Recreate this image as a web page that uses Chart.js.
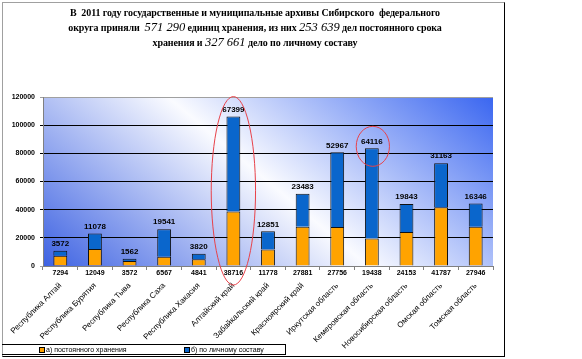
<!DOCTYPE html>
<html><head><meta charset="utf-8">
<script src="https://cdn.jsdelivr.net/npm/chart.js@4/dist/chart.umd.min.js"></script>
<style>
html,body{margin:0;padding:0;background:#fff;width:582px;height:359px;overflow:hidden;}
body{position:relative;}
#c{position:absolute;left:0;top:0;}
#frame{position:absolute;left:2px;top:2px;width:501px;height:353px;border-left:1px solid #a0a0a0;border-top:1px solid #a0a0a0;border-right:1px solid #000;border-bottom:1px solid #000;pointer-events:none;}
#title{position:absolute;left:2px;top:6px;width:506px;text-align:center;font:bold 10px "Liberation Serif",serif;line-height:14px;color:#000;letter-spacing:-0.1px;}
#title i{font-weight:normal;font-size:12.5px;letter-spacing:0;}
#legend{position:absolute;left:2px;top:344px;width:283px;height:9px;border-top:1px solid #000;border-right:1px solid #000;border-bottom:1px solid #000;font:7px "Liberation Sans",Arial,sans-serif;color:#000;}
#legend span{position:absolute;top:1px;line-height:8px;white-space:nowrap;}
#legend b{display:inline-block;width:4px;height:4px;border:1px solid #000;margin-right:1px;vertical-align:-1px;}
</style></head>
<body>
<canvas id="c" width="582" height="359"></canvas>
<div id="frame"></div>
<div id="title">В&nbsp; 2011 году государственные и муниципальные архивы Сибирского&nbsp; федерального<br>округа приняли&nbsp; <i>571 290</i> единиц хранения, из них <i>253 639</i> дел постоянного срока<br>хранения и <i>327 661</i> дело по личному составу</div>
<div id="legend"></div>
<script>
const categories=['Республика Алтай','Республика Бурятия','Республика Тыва','Республика Саха','Республика Хакасия','Алтайский край','Забайкальский край','Красноярский край','Иркутская область','Кемеровская область','Новосибирская область','Омская область','Томская область'];
const permanentStorage=[7294,12049,3572,6567,4841,38716,11778,27881,27756,19438,24153,41787,27946];
const personnelRecords=[3572,11078,1562,19541,3820,67399,12851,23483,52967,64116,19843,31163,16346];
const seriesNames=['а) постоянного хранения','б) по личному составу'];
const seriesColors=['#FFA300','#0A66CC'];
const yMin=0, yMax=120000, yStep=20000;
const circledCategories=[5,9];

// legend
const lg=document.getElementById('legend');
[[37,0],[182,1]].forEach(([x,i])=>{
  const s=document.createElement('span');
  s.style.left=x+'px';
  s.innerHTML='<b style="background:'+seriesColors[i]+'"></b>'+seriesNames[i];
  lg.appendChild(s);
});

const bgPlugin={id:'bg',beforeDraw(chart){
  const {ctx,chartArea:a}=chart;
  const cx=(a.left+a.right)/2, cy=(a.top+a.bottom)/2;
  const dx=0.645, dy=-0.764;
  const L=Math.abs((a.left-cx)*dx+(a.bottom-cy)*dy);
  const g=ctx.createLinearGradient(cx-L*dx,cy-L*dy,cx+L*dx,cy+L*dy);
  g.addColorStop(0,'#3d62e2');
  g.addColorStop(0.5,'#fafbff');
  g.addColorStop(1,'#3a66f0');
  ctx.save();ctx.fillStyle=g;ctx.fillRect(a.left,a.top,a.right-a.left,a.bottom-a.top);ctx.restore();
}};

const labelPlugin={id:'vals',afterDatasetsDraw(chart){
  const {ctx,scales:{x,y}}=chart;
  ctx.save();
  ctx.fillStyle='#000';ctx.textAlign='center';ctx.textBaseline='middle';
  categories.forEach((c,i)=>{
    const px=x.getPixelForValue(i);
    ctx.font='bold 8px "Liberation Sans",Arial,sans-serif';
    ctx.fillText(String(personnelRecords[i]),px,y.getPixelForValue(permanentStorage[i]+personnelRecords[i])-7);
    ctx.font='bold 7px "Liberation Sans",Arial,sans-serif';
    ctx.fillText(String(permanentStorage[i]),px,y.bottom+7);
  });
  // red ellipses
  ctx.strokeStyle='#e8424a';ctx.lineWidth=1;
  const bw=x.getPixelForValue(1)-x.getPixelForValue(0);
  {
    const i=circledCategories[0];
    const px=x.getPixelForValue(i);
    const top=y.getPixelForValue(permanentStorage[i]+personnelRecords[i])-20;
    const bot=y.bottom+19;
    ctx.beginPath();ctx.ellipse(px,(top+bot)/2,bw*0.64,(bot-top)/2,0,0,Math.PI*2);ctx.stroke();
  }
  {
    const i=circledCategories[1];
    const px=x.getPixelForValue(i);
    const cyy=y.getPixelForValue(permanentStorage[i]+personnelRecords[i])-2;
    ctx.beginPath();ctx.ellipse(px+1,cyy,bw*0.48,20,0,0,Math.PI*2);ctx.stroke();
  }
  ctx.restore();
}};

new Chart(document.getElementById('c'),{
  type:'bar',
  data:{labels:categories,datasets:[
    {label:seriesNames[0],data:permanentStorage,backgroundColor:seriesColors[0],borderColor:'#111',borderWidth:1,categoryPercentage:1,barPercentage:0.4},
    {label:seriesNames[1],data:personnelRecords,backgroundColor:seriesColors[1],borderColor:'#111',borderWidth:1,categoryPercentage:1,barPercentage:0.4}
  ]},
  options:{
    responsive:false,animation:false,
    layout:{padding:{left:0,top:97,right:89,bottom:0}},
    plugins:{legend:{display:false},tooltip:{enabled:false},title:{display:false}},
    scales:{
      x:{stacked:true,offset:true,
        grid:{display:true,drawOnChartArea:false,tickLength:4,color:'#808080',offset:true},
        border:{color:'#808080'},
        ticks:{autoSkip:false,minRotation:45,maxRotation:45,padding:11,color:'#000',font:{size:8,family:'"Liberation Sans", Arial, sans-serif'}},
        afterFit(s){s.height=93;s.paddingLeft=0;s.paddingRight=0;}
      },
      y:{stacked:true,min:yMin,max:yMax,
        grid:{tickLength:3,color:(c)=>(c.tick&&(c.tick.value===yMin||c.tick.value===yMax))?'#a0a0a0':'#000',lineWidth:1},
        border:{color:'#808080'},
        ticks:{stepSize:yStep,padding:5,color:'#000',font:{size:7,weight:'bold',family:'"Liberation Sans", Arial, sans-serif'},callback:(v)=>String(v)},
        afterFit(s){s.width=43;s.paddingTop=0;s.paddingBottom=0;}
      }
    }
  },
  plugins:[bgPlugin,labelPlugin]
});
</script>
</body></html>
